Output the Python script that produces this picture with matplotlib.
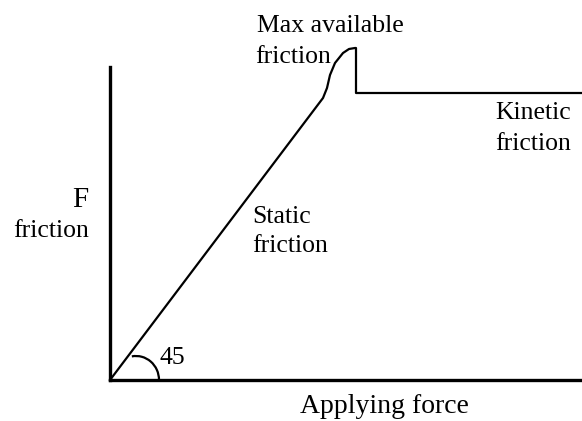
import matplotlib
matplotlib.use("Agg")
import matplotlib.pyplot as plt
from matplotlib.patches import Arc

# friction curve (schematic), units are arbitrary
force = [0, 213, 217, 220, 225, 233, 239, 245, 246, 246, 472]
friction = [0, 282, 292, 305, 317, 327, 331, 332, 332, 287, 287]

# labels: (text, x, y baseline, size)
labels = [
    ("Max available", 147, 348, 18.5),
    ("friction", 145, 317, 18.5),
    ("Kinetic", 385, 261, 18.5),
    ("friction", 385, 230, 18.5),
    ("Static", 142, 157, 18.5),
    ("friction", 142, 128, 18.5),
    ("F", -38, 173, 21),
    ("friction", -97, 143, 18.5),
    ("45", 50, 16, 18.5),
    ("Applying force", 190, -33, 20),
]

fig = plt.figure(figsize=(5.82, 4.21), dpi=100)
ax = fig.add_axes([0, 0, 1, 1])
ax.set_xlim(-110, 472)
ax.set_ylim(-41, 380)

# axes lines
ax.spines['left'].set_position(('data', 0))
ax.spines['bottom'].set_position(('data', 0))
ax.spines['left'].set_bounds(0, 313)
ax.spines['bottom'].set_bounds(0, 472)
ax.spines['left'].set_linewidth(2.4)
ax.spines['bottom'].set_linewidth(2.4)
ax.spines['top'].set_visible(False)
ax.spines['right'].set_visible(False)
ax.set_xticks([])
ax.set_yticks([])

ax.plot(force, friction, color='black', lw=1.6, solid_joinstyle='round')

# angle mark
ax.add_patch(Arc((26, 0), 46, 48, theta1=0, theta2=100, color='black', lw=1.6))

for txt, x, y, size in labels:
    ax.text(x, y, txt, fontsize=size, family='Liberation Serif',
            ha='left', va='baseline')

fig.savefig("out.png", dpi=100)
